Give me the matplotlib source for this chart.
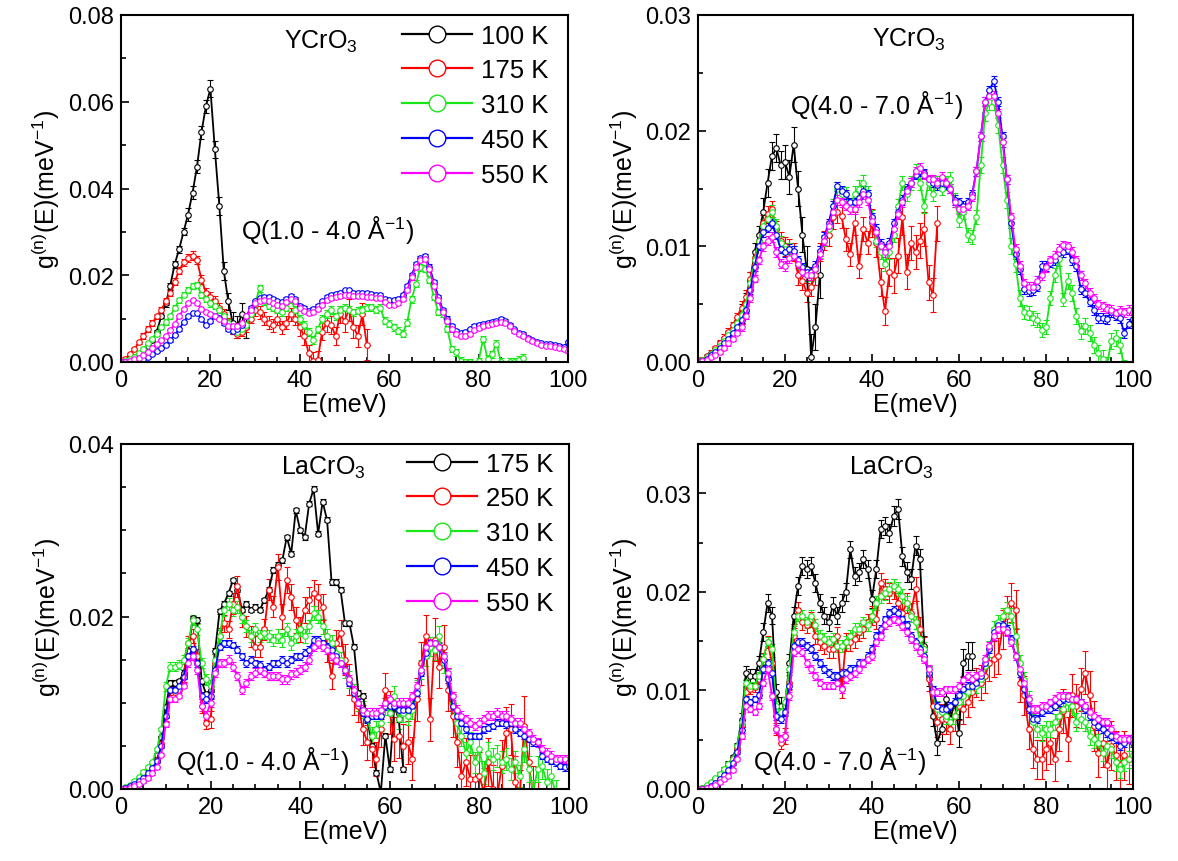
import numpy as np
import matplotlib
matplotlib.use("Agg")
import matplotlib.pyplot as plt
from matplotlib.lines import Line2D
from matplotlib.ticker import MultipleLocator, FormatStrFormatter

plt.rcParams['font.family'] = ['Liberation Sans', 'DejaVu Sans']
plt.rcParams['mathtext.fontset'] = 'custom'
plt.rcParams['mathtext.rm'] = 'Liberation Sans'
plt.rcParams['mathtext.it'] = 'Liberation Sans:italic'

# Energy step of 1 meV; values in units of 1e-3 meV^-1
E_STEP = 1.0

# ---------------- Panel 1: YCrO3, Q(1.0-4.0) ----------------
p1_labels = ['100 K', '175 K', '310 K', '450 K', '550 K']
p1_100K = [0, 0.3, 0.7, 1.1, 1.5, 2.2, 3.7, 5.0, 7.0, 10.5, 13.5, 17.5, 22.5, 26, 30, 34, 39, 45, 53, 59,
           63, 49, 36, 21, 14, 9, 8, 11, 8]
p1_175K = [0, 0.8, 1.8, 3, 4.5, 6, 7.6, 9, 10.5, 12, 14, 16, 18.5, 21, 23, 24, 24.5, 23.5, 19, 16,
           15, 14, 12.5, 11, 9, 7.5, 6.5, 7, 8, 10, 12, 11.5, 10, 9, 8.5, 10, 8, 9, 11, 10,
           8, 6, 2, 0.3, 0.5, 7, 9, 8.5, 6, 11, 9.5, 12, 8, 6, 11, 4]
p1_310K = [0, 0.3, 0.7, 1.2, 2.0, 3.0, 4.3, 5.3, 6.5, 8, 9.2, 10.5, 12.5, 14.2, 15.5, 16.5, 17.5, 17.8, 15.5, 14.5,
           13.5, 13, 12, 10.5, 9, 7.6, 7, 7.5, 8.5, 11, 13.5, 17, 14, 13, 12.5, 12, 11.5, 12.5, 14.5, 12,
           10, 8.5, 7, 5, 7.5, 10, 11, 12, 10.5, 12, 12.5, 12, 11.5, 11.8, 12, 12.5, 12.6, 12, 12.5, 9.5,
           8.8, 8, 7.2, 6.5, 9, 14.5, 18, 21.8, 21.5, 19, 15, 11.5, 11, 7.6, 3, 2.2, 0.3, 0, 0, -0.5,
           0.2, 5.3, 0.7, 1.8, 4.2, 0, -0.8, 0, 0, 0.5, 1]
p1_450K = [0, 0.05, 0.1, 0.2, 0.4, 0.7, 1.2, 1.8, 2.5, 3.3, 4.0, 5.0, 6.2, 7.5, 9.2, 10.5, 11.3, 11.3, 9.8, 8.5,
           9.5, 10.5, 10.2, 9, 7.6, 7.2, 7.5, 8.5, 10.5, 12.5, 14, 14.8, 15, 15, 14.5, 14, 13.8, 14.5, 15.3, 14.5,
           13, 12.5, 11.8, 12.2, 13, 14, 15, 15.5, 15.7, 16, 16.5, 16.5, 16, 16, 16, 15.8, 15.7, 15.5, 15.5, 14.5,
           14.2, 14.2, 14.5, 15.5, 17.5, 20, 22.5, 24, 24.5, 22, 18.4, 15, 12, 10, 8.2, 7.2, 6.8, 7, 7.5, 8.3,
           8.6, 8.8, 9, 9.2, 9.4, 10, 9.5, 8.5, 7.5, 6.8, 6.5, 5.5, 5, 4.5, 4.3, 4.2, 4.2, 4, 3.8, 3.5, 4.5]
p1_550K = [0, 0.1, 0.3, 0.6, 1.0, 1.6, 2.4, 3.2, 4.1, 5.0, 6.0, 7.3, 8.8, 10.5, 12.2, 13.5, 14.2, 13.5, 12.2, 11.5,
           11, 10.5, 10, 9.5, 8.4, 8.2, 8.4, 9, 10.5, 12, 13.5, 14, 14.2, 14, 13.5, 13.2, 13, 13.8, 14.5, 14,
           12.5, 11.8, 11.2, 11.5, 12.2, 13.2, 14.2, 14.8, 15, 15.2, 15.5, 15.5, 15.2, 15.2, 15.2, 15, 15, 14.8, 14.8, 13.8,
           13.2, 13.2, 13.5, 14.5, 16.5, 19.5, 22, 23.5, 23.8, 21.5, 17.5, 14.2, 11.5, 9.5, 7.5, 6.5, 6, 6, 6.5, 7.3,
           7.8, 8.2, 8.5, 8.8, 9, 9.3, 9, 8.2, 7.2, 6.5, 6, 5.2, 4.8, 4.3, 4, 3.8, 3.6, 3.5, 3.3, 3, 2.5]
p1_err_100K = [0.2, 0.4, 0.8, 1.5, 2.0, 2.5]
p1_err_175K = [0.3, 0.6, 0.8, 1.0, 1.2, 1.0, 1.5, 1.5, 2.0, 2.0, 2.5, 3.5]
p1_err_310K = [0.2, 0.4, 0.6, 0.7, 0.8, 0.8, 0.8, 0.8, 0.9, 0.9, 0.8, 0.8, 0.8, 0.8, 0.7, 0.8, 0.8, 0.9, 0.9]
p1_err_450K = [0.1, 0.2, 0.3, 0.3, 0.4, 0.4, 0.4, 0.4, 0.4, 0.4, 0.4, 0.4, 0.4, 0.5, 0.5, 0.4, 0.4, 0.4, 0.4, 0.4, 0.4]
p1_err_550K = [0.1, 0.2, 0.3, 0.3, 0.4, 0.4, 0.4, 0.4, 0.4, 0.4, 0.4, 0.4, 0.4, 0.5, 0.5, 0.4, 0.4, 0.4, 0.4, 0.4, 0.4]

# ---------------- Panel 2: YCrO3, Q(4.0-7.0) ----------------
p2_100K = [0, 0.15, 0.4, 0.7, 1.0, 1.4, 1.8, 2.3, 2.8, 3.4, 4.2, 5.2, 7, 9.5, 11, 13, 15.5, 17.8, 18.5, 17,
           17.3, 16, 18.8, 15, 11, 8, 0.4, 3, 7.5]
p2_175K = [0, 0.2, 0.5, 0.8, 1.2, 1.6, 2.1, 2.6, 3.2, 3.9, 4.7, 5.6, 7.2, 9.0, 10.5, 12, 12.8, 13.2, 11.5, 10.5,
           10, 9.8, 9.5, 7.5, 7, 6, 6.5, 7.5, 9.5, 10.5, 11, 12.5, 13, 12.6, 10.6, 9.3, 12, 8.3, 11.5, 10.3,
           12, 10.3, 6.9, 4.4, 7.8, 7.5, 9.2, 12.5, 7.8, 10.3, 9.5, 10.5, 11.5, 6.9, 5.8, 12]
p2_310K = [0, 0.15, 0.4, 0.7, 1.0, 1.4, 1.8, 2.3, 2.8, 3.4, 4.1, 5.0, 6.8, 8.8, 10.5, 11.8, 12.4, 13, 11.8, 10.3,
           9.8, 9.8, 9.5, 8.5, 8, 7.5, 7.5, 8, 9.5, 10.5, 11.5, 13.5, 15, 14.5, 14.5, 13.5, 14.5, 15, 15.5, 14.5,
           12.5, 10.5, 9.5, 8.5, 9.5, 11, 13.5, 15.5, 14.5, 15.5, 16.5, 15.5, 13.5, 15.5, 14.5, 15.5, 15, 15.5, 15.8, 14,
           12.3, 13, 11, 10.8, 12.5, 17, 21.5, 22.5, 22.5, 20.5, 17, 14, 10, 8.5, 5.5, 4.3, 4.2, 3.8, 3.6, 2.8,
           3.0, 5.5, 7.5, 8.9, 5.4, 7, 6, 4, 2.7, 3.1, 2.5, 1.5, 0.8, 0.3, -0.3, 1.8, 2.1, 1.5, -0.5]
p2_450K = [0, 0.1, 0.3, 0.6, 0.9, 1.2, 1.6, 2.0, 2.5, 3.0, 3.6, 4.5, 6.2, 8.2, 10, 11.2, 11.6, 12, 11, 9.8,
           9.5, 9.8, 9.6, 8.8, 8.2, 7.8, 7.8, 8.3, 9.6, 10.8, 12, 13.5, 15.2, 14.8, 14.5, 13.8, 13.8, 14.2, 14.8, 14.5,
           12.5, 11.5, 10.2, 9.8, 10.3, 12, 13, 14, 15, 15.5, 16.2, 16.5, 16.3, 15.8, 15.5, 15.3, 15.5, 15.4, 15, 14,
           13.8, 13.5, 13.8, 14.5, 16.5, 19.5, 22.5, 23.5, 24.3, 22.5, 19.5, 15.8, 12, 9.3, 8, 6.3, 6.1, 6.2, 6.5, 8.3,
           8.3, 8.6, 8.8, 9.4, 9.5, 9.7, 8.8, 8.3, 6.3, 6.0, 5.2, 4.5, 3.8, 3.8, 3.7, 4.3, 4.0, 3.8, 2.5, 3.3, 3.7]
p2_550K = [0, 0.05, 0.2, 0.4, 0.6, 0.9, 1.2, 1.6, 2.0, 2.5, 3.0, 4.0, 5.5, 7.2, 8.8, 10, 10.5, 10.8, 9.5, 8.5,
           8.3, 9, 9.2, 8.5, 7.8, 7.5, 7.5, 8, 9.3, 10.5, 11.8, 13, 14, 13.8, 13.5, 13.2, 13.2, 13.8, 14.5, 14,
           12.2, 11.2, 10, 9.5, 10, 11.5, 12.8, 13.8, 14.8, 15.5, 16.5, 16.8, 16.2, 15.8, 15.8, 15.5, 16, 15.5, 15, 13.8,
           13.2, 13.2, 13.5, 14.3, 16.5, 19.5, 22.5, 23, 23, 21.5, 19, 15.8, 12.5, 9.8, 8.3, 6.8, 6.5, 6.5, 7, 7.5,
           8.2, 8.8, 9.2, 9.8, 10.1, 10, 9.5, 8.8, 7.5, 6.8, 6, 5.5, 5, 4.8, 4.6, 4.5, 4.2, 4.4, 4.3, 4.5, 4.3]
p2_err_100K = [0.2, 0.4, 0.8, 1.2, 1.5, 2.0]
p2_err_175K = [0.2, 0.3, 0.6, 0.7, 0.8, 0.8, 1.0, 1.0, 1.2, 1.5, 1.5, 1.5]
p2_err_310K = [0.1, 0.2, 0.4, 0.6, 0.5, 0.5, 0.6, 0.7, 0.6, 0.6, 0.6, 0.6, 0.6, 0.7, 0.7, 0.6, 0.6, 0.7, 0.7, 0.7]
p2_err_450K = [0.1, 0.2, 0.3, 0.4, 0.4, 0.4, 0.4, 0.4, 0.4, 0.4, 0.4, 0.4, 0.4, 0.4, 0.4, 0.4, 0.4, 0.4, 0.4, 0.4, 0.4]
p2_err_550K = [0.1, 0.2, 0.3, 0.4, 0.4, 0.4, 0.4, 0.4, 0.4, 0.4, 0.4, 0.4, 0.4, 0.4, 0.4, 0.4, 0.4, 0.4, 0.4, 0.4, 0.4]

# ---------------- Panel 3: LaCrO3, Q(1.0-4.0) ----------------
p3_labels = ['175 K', '250 K', '310 K', '450 K', '550 K']
p3_175K = [0, 0.1, 0.3, 0.6, 1.0, 1.4, 2.0, 2.8, 4.0, 6.0, 9.5, 12.3, 12.3, 12.5, 13.5, 16, 19.8, 19.6, 12.5, 11,
           11.5, 16, 20.6, 21.5, 22.7, 24.2, 23.1, 20.8, 21.5, 20.8, 21.15, 20.8, 21.9, 23.1, 25.4, 26, 26.5, 29.2, 27.3, 32.3,
           30, 29.2, 33.1, 34.8, 29.6, 33.3, 31.2, 24, 24, 23.1, 19.2, 19.2, 16.5, 11.15, 10.8, 8.1, 5, 1.9, -0.4, 6.2,
           2.3, 9.6, 8.1, 2.3]
p3_250K = [0, 0.05, 0.2, 0.4, 0.7, 1.1, 1.6, 2.3, 3.4, 5.2, 8.5, 11.5, 11.2, 11.5, 13, 16.9, 17.7, 15.4, 9.6, 7.7,
           8.1, 14.6, 17.7, 19.2, 18.5, 21.5, 23.5, 20, 18.85, 17.7, 16.5, 16.5, 18.5, 23.1, 21.15, 25.7, 20, 24.2, 22.3, 19.6,
           18.5, 20.8, 21.9, 22.7, 22.3, 21.15, 16.2, 13.1, 16.9, 18.1, 15, 12.7, 10.4, 9.6, 6.9, 5.4, 4.6, 3.5, 6.9, 11.5,
           8.85, 5.8, 6.15, 5, 5.4, 3.5, 10.4, 14.6, 17.7, 8.1, 17.3, 14.2, 16.5, 11.5, 8.5, 5.4, 1.5, 3.1, 1.15, 1.15,
           1.5, -0.4, 3.1, 0, -0.8, 2.7, 6.5, 6.9, 0.8, -0.8, 7.3, 3.1, -0.8, -1]
p3_310K = [0, 0.2, 0.5, 0.9, 1.4, 2.0, 2.6, 3.1, 4.6, 6.9, 11.9, 14.2, 14.2, 14.4, 15, 16.9, 19.6, 18.5, 14.6, 12.7,
           11.9, 15, 17.7, 20.8, 21.5, 20.8, 21.15, 20, 18.85, 17.7, 18.5, 17.7, 18.1, 17.7, 17.3, 17.7, 17.3, 18.5, 16.9, 17.7,
           18.5, 17.7, 18.85, 20.4, 20, 18.85, 17.7, 16.9, 15.8, 15, 13.85, 12.7, 11.15, 10, 9.2, 8.1, 6.15, 6.9, 7.7, 9.6,
           8.85, 10.8, 8.1, 8.85, 8.5, 9.2, 11.5, 13.85, 15.4, 16.5, 16.15, 17.7, 14.6, 12.7, 10, 7.7, 6.15, 4.2, 5.4, 3.1,
           4.6, 1.9, 4.2, 3.5, 3.85, 3.1, 3.5, 2.3, 3.1, 1.5, 4.6, 2.3, -0.4, 2.3, 2.7, 0.8, 1.5, -0.4]
p3_450K = [0, 0.1, 0.3, 0.6, 0.9, 1.3, 1.8, 2.4, 3.2, 5.0, 8.5, 11.5, 11.5, 12, 13, 15.4, 16.2, 14.6, 10.8, 10.4,
           10.8, 13.85, 16.5, 16.9, 16.9, 16.7, 16.15, 15.4, 14.6, 15, 14.6, 14.4, 13.85, 14.2, 14.6, 14.6, 15, 14.6, 15, 15.4,
           15.4, 15.8, 16.15, 17.3, 17.3, 16.9, 16.5, 16.15, 15.4, 14.6, 13.85, 12.3, 11.15, 10, 8.85, 8.1, 8.5, 8.5, 8.5, 9.6,
           9.6, 9.6, 9.2, 9.2, 9.2, 9.6, 11.15, 13.5, 15.8, 16.9, 16.9, 16.5, 15, 12.7, 9.6, 8.5, 7.7, 6.9, 6.15, 6.15,
           6.15, 6.9, 7.1, 7.3, 7.7, 7.7, 7.5, 7.7, 6.9, 6.5, 6.15, 5.8, 5.4, 5.4, 3.85, 3.5, 3.3, 3.1, 2.7, 2.5, 2.7]
p3_550K = [0, 0.05, 0.15, 0.35, 0.6, 0.9, 1.3, 1.8, 2.5, 4.0, 7.5, 10.4, 10.4, 10.8, 12, 14.6, 15.4, 13.85, 9.6, 8.5,
           10, 13.5, 14.6, 14.6, 15, 14.2, 13.1, 11.5, 12.3, 13.1, 13.5, 13.85, 13.5, 13.1, 13.1, 13.1, 12.7, 12.7, 13.3, 13.5,
           13.85, 14.2, 15, 16.5, 16.9, 16.5, 16.15, 15.4, 15, 14.6, 13.85, 12.7, 11.5, 10, 9.2, 8.85, 8.85, 8.85, 9.2, 10,
           10.4, 10, 10, 10, 10, 10.8, 11.9, 13.85, 16.5, 16.9, 16.9, 16.5, 15.4, 13.5, 10.8, 9.2, 8.5, 8.1, 7.7, 7.3,
           7.7, 8.1, 8.5, 8.5, 8.85, 8.5, 8.5, 8.1, 7.7, 7.7, 6.9, 6.5, 5.8, 5.4, 4.6, 4.2, 3.85, 3.5, 3.5, 3.5, 3.1]
p3_err_175K = [0.1, 0.2, 0.3, 0.3, 0.3, 0.3, 0.3, 0.3, 0.3, 0.3, 0.3, 0.3, 0.3]
p3_err_250K = [0.1, 0.3, 0.6, 0.8, 1.0, 1.2, 1.2, 1.5, 1.5, 1.5, 1.8, 2.0, 2.5, 2.5, 2.5, 2.8, 2.8, 3.0, 3.5]
p3_err_310K = [0.1, 0.2, 0.5, 0.6, 0.7, 0.7, 0.7, 0.8, 0.8, 0.9, 1.0, 1.0, 1.1, 1.1, 1.2, 1.2, 1.3, 1.3, 1.5, 1.5]
p3_err_450K = [0.1, 0.2, 0.3, 0.4, 0.4, 0.4, 0.4, 0.4, 0.4, 0.4, 0.4, 0.4, 0.4, 0.4, 0.4, 0.4, 0.4, 0.4, 0.4, 0.4, 0.4]
p3_err_550K = [0.1, 0.2, 0.3, 0.5, 0.5, 0.5, 0.5, 0.5, 0.5, 0.5, 0.5, 0.5, 0.5, 0.5, 0.5, 0.5, 0.5, 0.5, 0.5, 0.5, 0.5]

# ---------------- Panel 4: LaCrO3, Q(4.0-7.0) ----------------
p4_175K = [0, 0.1, 0.3, 0.6, 1.0, 1.4, 1.9, 2.5, 3.2, 4.4, 7, 11.8, 11.5, 11.5, 12.8, 15.9, 18.9, 17.6, 9.8, 8.4,
           8.4, 12.8, 17.6, 20.6, 22.6, 22.3, 22.6, 20.9, 18.9, 17.6, 16.9, 18.6, 17.6, 18.9, 20, 24.3, 21.6, 22, 23.3, 22.3,
           19.3, 22.3, 26.4, 26.7, 26, 27.7, 28.4, 23.6, 22, 21.3, 24.7, 23.3, 14.5, 11.5, 7.4, 4.7, 6.1, 9.1, 7.1, 8.8,
           5.7, 12.8, 13.5, 13.5]
p4_250K = [0, 0.05, 0.2, 0.4, 0.7, 1.1, 1.6, 2.2, 3.0, 4.2, 6.5, 9.8, 10.1, 10.3, 11.2, 13.2, 14.9, 12.8, 6.1, 4.7,
           5.4, 10.8, 15.5, 18.2, 16.9, 16.6, 17.2, 15.5, 14.9, 14.5, 14.2, 14.2, 15.5, 10.1, 14.9, 14.9, 15.2, 15.9, 16.2, 16.9,
           17.6, 17.2, 20.9, 20.3, 19.9, 20.3, 18.9, 17.9, 18.9, 17.9, 20.3, 16.2, 14.2, 11.15, 8.45, 6.76, 7.1, 7.1, 6.1, 7.4,
           8.45, 8.1, 8.8, 9.8, 10.8, 10.8, 11.5, 12.8, 13.2, 13.5, 16.2, 17.6, 18.9, 18.2, 10.8, 9.5, 6.1, 4.1, 3.0, 3.0,
           4.1, 4.7, 3.0, 6.1, 7.9, 5.07, 9.5, 8.45, 10.1, 11.8, 9.5, 6.4, 3.7, 4.7, 2.4, 4.4, 3.4, 2.4, 3.4, 3.0, 3.0]
p4_310K = [0, 0.15, 0.4, 0.7, 1.1, 1.5, 2.0, 2.5, 3.0, 4.4, 6.8, 10.8, 10.5, 10.5, 11.5, 13.2, 14.9, 14.2, 8.45, 7.77,
           8.78, 12.2, 15.9, 17.6, 17.6, 16.9, 17.6, 16.6, 15.5, 15.2, 14.9, 15.2, 14.5, 14.5, 14.9, 15.5, 16.2, 16.2, 16.9, 16.6,
           17.6, 18.9, 19.6, 19.9, 20.3, 20.6, 20.3, 19.6, 18.9, 17.6, 16.9, 15.2, 14.2, 11.8, 9.8, 8.1, 7.77, 7.43, 6.76, 7.43,
           8.78, 9.46, 9.8, 10.5, 10.5, 11.15, 12.5, 14.2, 16.2, 16.9, 17.6, 18.2, 17.6, 15.5, 12.8, 11.1, 9.1, 6.8, 6.1, 5.7,
           6.1, 6.1, 6.76, 7.4, 8.1, 8.8, 8.45, 6.76, 7.1, 6.76, 5.4, 5.07, 4.7, 3.7, 4.4, 4.05, 2.7, 2.0, 2.7, 3.0, 3.4]
p4_450K = [0, 0.05, 0.15, 0.35, 0.6, 1.0, 1.4, 1.9, 2.6, 3.8, 6.0, 9.1, 8.8, 9.1, 9.5, 12.2, 12.8, 11.8, 7.4, 7.1,
           7.8, 10.5, 14.5, 14.9, 14.9, 14.5, 14.2, 13.5, 12.8, 12.2, 11.8, 11.5, 11.5, 11.8, 11.8, 12.2, 12.2, 12.8, 12.8, 13.5,
           14.2, 15.5, 16.2, 17.2, 17.9, 18.2, 17.9, 17.2, 16.6, 15.5, 14.9, 14.2, 13.5, 11.8, 10.1, 8.45, 8.1, 8.1, 8.45, 8.8,
           9.5, 10.1, 10.5, 10.5, 10.8, 11.5, 12.8, 14.2, 15.9, 16.6, 16.6, 16.2, 15.2, 13.5, 11.8, 10.1, 8.1, 7.1, 7.1, 7.77,
           8.1, 8.1, 8.45, 8.78, 9.1, 9.1, 9.1, 9.1, 8.78, 8.1, 7.43, 6.8, 6.4, 6.1, 5.7, 5.4, 5.07, 4.4, 4.7, 5.07, 4.7]
p4_550K = [0, 0.02, 0.08, 0.2, 0.4, 0.7, 1.0, 1.35, 1.9, 3.0, 5.4, 8.4, 8.1, 7.8, 8.45, 10.8, 12.2, 9.46, 6.08, 5.07,
           5.4, 9.46, 13.9, 14.2, 13.9, 12.8, 12.2, 11.5, 10.8, 10.5, 10.5, 10.5, 10.8, 10.1, 11.15, 11.5, 11.8, 12.2, 12.8, 13.2,
           13.5, 14.9, 15.5, 16.6, 16.9, 17.2, 17.0, 16.55, 15.9, 15.2, 14.5, 13.85, 13.2, 12.2, 9.8, 9.8, 9.8, 10.1, 10.1, 10.1,
           10.5, 11.1, 11.5, 11.15, 11.5, 11.8, 13.2, 14.5, 15.5, 16.2, 16.2, 15.9, 14.9, 13.5, 12.2, 10.8, 9.1, 8.1, 8.1, 8.45,
           8.45, 8.78, 9.1, 9.46, 9.46, 9.46, 9.1, 9.1, 8.78, 8.45, 7.77, 7.43, 7.1, 6.76, 6.76, 6.08, 5.4, 5.07, 5.07, 5.07, 5.07]
p4_err_175K = [0.1, 0.3, 0.7, 0.9, 0.9, 0.9, 0.9, 0.9, 0.9, 1.0, 1.0, 1.2, 1.4]
p4_err_250K = [0.1, 0.2, 0.5, 0.6, 0.8, 0.8, 0.9, 0.9, 1.0, 1.0, 1.2, 1.5, 1.5, 1.8, 2.0, 2.0, 2.2, 2.2, 2.5, 2.5, 2.5]
p4_err_310K = [0.1, 0.2, 0.4, 0.5, 0.6, 0.6, 0.6, 0.6, 0.7, 0.7, 0.7, 0.8, 0.8, 0.8, 0.8, 0.8, 0.8, 0.9, 0.9, 0.9, 1.0]
p4_err_450K = [0.1, 0.2, 0.3, 0.4, 0.4, 0.4, 0.4, 0.4, 0.4, 0.4, 0.4, 0.4, 0.4, 0.4, 0.4, 0.4, 0.4, 0.4, 0.4, 0.4, 0.4]
p4_err_550K = [0.1, 0.2, 0.3, 0.4, 0.4, 0.4, 0.4, 0.4, 0.4, 0.4, 0.4, 0.4, 0.4, 0.4, 0.4, 0.4, 0.4, 0.4, 0.4, 0.4, 0.4]

colors = ['#000000', '#ff0000', '#19e619', '#0000ff', '#ff00ff']
SCALE = 1e-3
YLABEL = r'g$^{\mathrm{(n)}}$(E)(meV$^{\mathrm{-1}}$)'


def block_err(blocks, n):
    idx = np.minimum(np.arange(n) // 5, len(blocks) - 1)
    return np.asarray(blocks)[idx]


def draw_panel(ax, series, errs, ymax, ymajor, yminor, yfmt):
    for vals, err, c in zip(series, errs, colors):
        v = np.asarray(vals, dtype=float)
        x = np.arange(len(v)) * E_STEP
        e = block_err(err, len(v))
        ax.errorbar(x, v * SCALE, yerr=e * SCALE, color=c, lw=1.3, marker='o', ms=4.0,
                    mfc='white', mec=c, mew=0.8, elinewidth=0.8, capsize=2, capthick=0.8)
    ax.set_xlim(0, 100)
    ax.set_ylim(0, ymax)
    ax.xaxis.set_major_locator(MultipleLocator(20))
    ax.xaxis.set_minor_locator(MultipleLocator(5))
    ax.yaxis.set_major_locator(MultipleLocator(ymajor))
    ax.yaxis.set_minor_locator(MultipleLocator(yminor))
    ax.yaxis.set_major_formatter(FormatStrFormatter(yfmt))
    ax.tick_params(which='both', direction='in', top=False, right=False, labelsize=17, width=1.2)
    ax.tick_params(which='major', length=6, pad=5)
    ax.tick_params(which='minor', length=3.5)
    for s in ax.spines.values():
        s.set_linewidth(1.5)
    ax.set_xlabel('E(meV)', fontsize=18, labelpad=1)
    ax.set_ylabel(YLABEL, fontsize=18, labelpad=4)


def add_legend(ax, labels, x, y):
    handles = [Line2D([0], [0], color=c, lw=1.6, marker='o', ms=12, mfc='white', mec=c, mew=1.0)
               for c in colors]
    ax.legend(handles, labels, loc='upper left', bbox_to_anchor=(x, y), frameon=False,
              fontsize=18.5, handlelength=2.75, handletextpad=0.35, labelspacing=0.42,
              borderpad=0, borderaxespad=0)


W, H = 1178, 862
fig = plt.figure(figsize=(W / 100, H / 100), dpi=100)

ax1 = fig.add_axes([121 / W, 1 - 363 / H, 447 / W, 347 / H])
ax2 = fig.add_axes([698 / W, 1 - 363 / H, 435 / W, 347 / H])
ax3 = fig.add_axes([121 / W, 1 - 790 / H, 448 / W, 345 / H])
ax4 = fig.add_axes([698 / W, 1 - 790 / H, 435 / W, 345 / H])

draw_panel(ax1, [p1_100K, p1_175K, p1_310K, p1_450K, p1_550K],
           [p1_err_100K, p1_err_175K, p1_err_310K, p1_err_450K, p1_err_550K],
           0.08, 0.02, 0.01, '%.2f')
draw_panel(ax2, [p2_100K, p2_175K, p2_310K, p2_450K, p2_550K],
           [p2_err_100K, p2_err_175K, p2_err_310K, p2_err_450K, p2_err_550K],
           0.03, 0.01, 0.005, '%.2f')
draw_panel(ax3, [p3_175K, p3_250K, p3_310K, p3_450K, p3_550K],
           [p3_err_175K, p3_err_250K, p3_err_310K, p3_err_450K, p3_err_550K],
           0.04, 0.02, 0.005, '%.2f')
draw_panel(ax4, [p4_175K, p4_250K, p4_310K, p4_450K, p4_550K],
           [p4_err_175K, p4_err_250K, p4_err_310K, p4_err_450K, p4_err_550K],
           0.035, 0.01, 0.005, '%.2f')

add_legend(ax1, p1_labels, 0.628, 0.975)
add_legend(ax3, p3_labels, 0.638, 0.978)

tkw = dict(fontsize=18, ha='center', va='center')
ax1.text(0.447, 0.925, 'YCrO$_3$', transform=ax1.transAxes, **tkw)
ax1.text(0.462, 0.383, r'Q(1.0 - 4.0 Å$^{\mathrm{-1}}$)', transform=ax1.transAxes, **tkw)
ax2.text(0.485, 0.931, 'YCrO$_3$', transform=ax2.transAxes, **tkw)
ax2.text(0.41, 0.744, r'Q(4.0 - 7.0 Å$^{\mathrm{-1}}$)', transform=ax2.transAxes, **tkw)
ax3.text(0.451, 0.935, 'LaCrO$_3$', transform=ax3.transAxes, **tkw)
ax3.text(0.315, 0.085, r'Q(1.0 - 4.0 Å$^{\mathrm{-1}}$)', transform=ax3.transAxes, **tkw)
ax4.text(0.444, 0.935, 'LaCrO$_3$', transform=ax4.transAxes, **tkw)
ax4.text(0.326, 0.085, r'Q(4.0 - 7.0 Å$^{\mathrm{-1}}$)', transform=ax4.transAxes, **tkw)

fig.savefig('out.png', dpi=100)
